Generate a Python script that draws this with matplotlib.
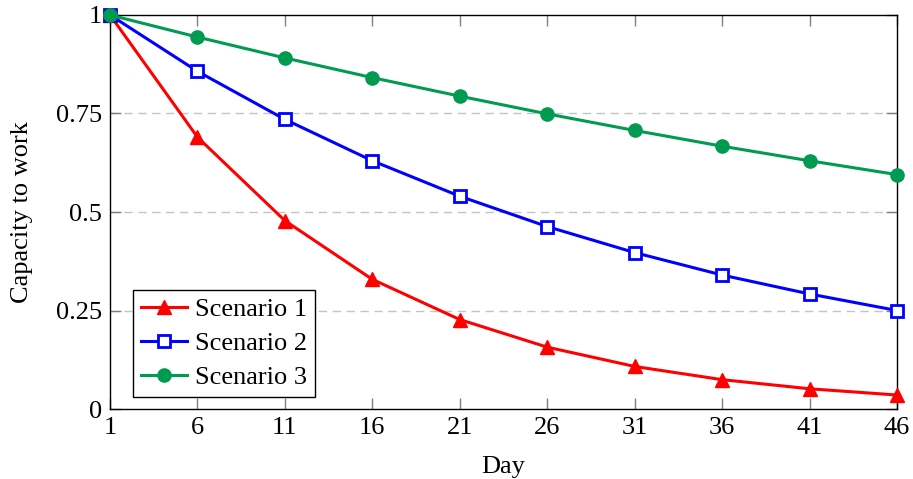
import matplotlib
matplotlib.use('Agg')
import matplotlib.pyplot as plt

days = [1, 6, 11, 16, 21, 26, 31, 36, 41, 46]
scenario1 = [1.0, 0.69, 0.478, 0.329, 0.227, 0.157, 0.108, 0.0745, 0.0514, 0.0355]
scenario2 = [1.0, 0.857, 0.735, 0.63, 0.54, 0.463, 0.397, 0.34, 0.292, 0.25]
scenario3 = [1.0, 0.944, 0.891, 0.841, 0.794, 0.749, 0.707, 0.667, 0.63, 0.595]
y_ticks = [0, 0.25, 0.5, 0.75, 1]
y_tick_labels = ['0', '0.25', '0.5', '0.75', '1']

plt.rcParams['font.family'] = ['Liberation Serif', 'DejaVu Serif']

fig = plt.figure(figsize=(9.13, 4.79), dpi=100)
ax = fig.add_axes([0.1205, 0.1461, 0.862, 0.8226])

fs = 19
ax.plot(days, scenario1, color='#ff0000', lw=2.2, marker='^', ms=9.5,
        label='Scenario 1', clip_on=False, zorder=3)
ax.plot(days, scenario2, color='#0000ff', lw=2.2, marker='s', ms=8,
        mfc='white', mew=2, label='Scenario 2', clip_on=False, zorder=4)
ax.plot(days, scenario3, color='#009a50', lw=2.2, marker='o', ms=9.5,
        label='Scenario 3', clip_on=False, zorder=5)

ax.set_xlim(1, 46)
ax.set_ylim(0, 1)
ax.set_xticks(days)
ax.set_yticks(y_ticks)
ax.set_yticklabels(y_tick_labels)
for y in y_ticks[1:-1]:
    ax.axhline(y, color='#c4c4c4', lw=1, dashes=(6, 4), zorder=1)

ax.tick_params(direction='in', length=8, width=1, colors='#808080',
               labelcolor='black', labelsize=fs, top=True, right=True, pad=6)
for s in ax.spines.values():
    s.set_linewidth(1)
    s.set_color('black')

ax.set_xlabel('Day', fontsize=fs, labelpad=12)
ax.set_ylabel('Capacity to work', fontsize=fs, labelpad=16)

leg = ax.legend(loc='lower left', bbox_to_anchor=(0.029, 0.03), borderaxespad=0,
                fontsize=fs, fancybox=False, edgecolor='black', framealpha=1,
                handlelength=1.75, handletextpad=0.3, labelspacing=0.4,
                borderpad=0.3)
leg.get_frame().set_linewidth(1)

fig.savefig('out.png', dpi=100)
